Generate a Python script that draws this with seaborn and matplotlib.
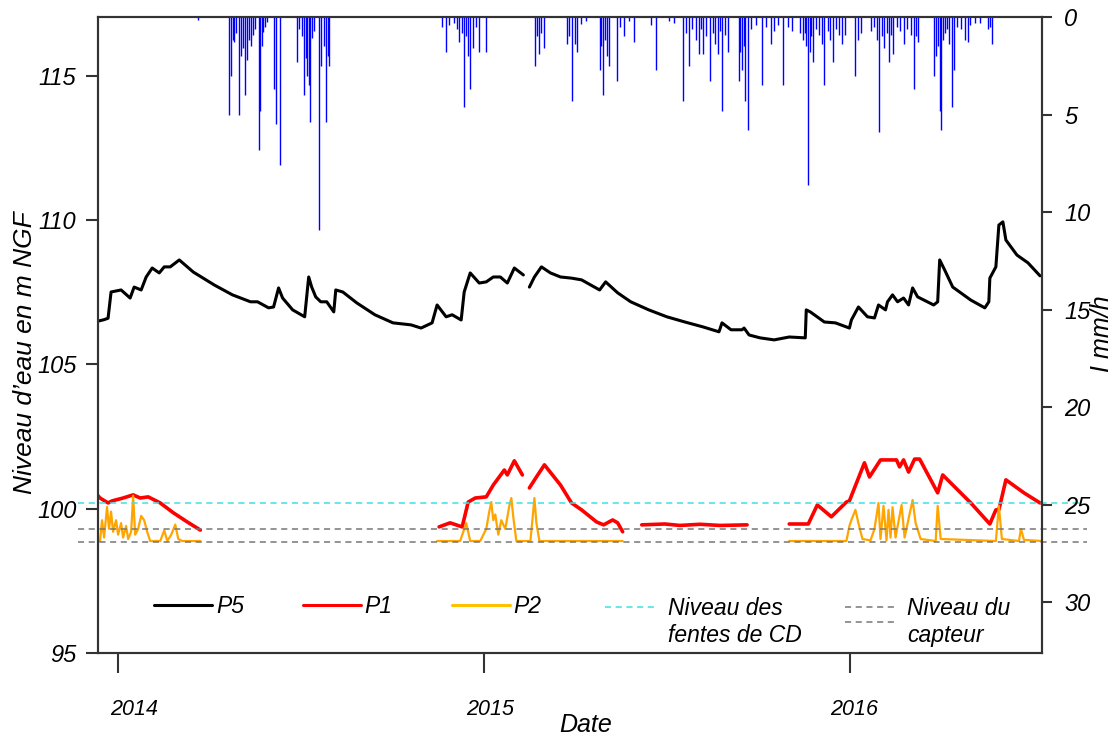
import numpy as np
import pandas as pd
import matplotlib
matplotlib.use("Agg")
import matplotlib.pyplot as plt
import seaborn as sns
from matplotlib.lines import Line2D
from matplotlib.legend_handler import HandlerBase
from matplotlib.transforms import ScaledTranslation

# jours depuis le 1er janvier 2014
origin = pd.Timestamp("2014-01-01")
nan = np.nan

p5_day = [-20, -14, -10, -7, 3, 12, 16, 23, 28, 34, 41, 46, 52, 61, 75, 96, 114, 132, 139, 150,
          155, 160, 164, 174, 186, 190, 193, 197, 202, 208, 215, 217, 224, 238, 256, 274, 292, 302,
          313, 318, 327, 333, 342, 345, 351, 360, 367, 374, 381, 388, 395, 404, nan,
          410, 415, 422, 431, 441, 452, 462, 480, 486, 498, 511, 529, 547, 565, 583, 599, 602, 611,
          622, 624, 629, 640, 654, 669, 685, 686, 690, 704, 715, 729, 731, 738, 747, 754, 758, 765,
          767, 772, 777, 783, 788, 792, 797, 813, 817, 819, 824, 832, 850, 864, 868, 869, 875, 878,
          882, 885, 896, 907, 919]
p5_level = [106.50, 106.55, 106.60, 107.51, 107.58, 107.30, 107.68, 107.58, 108.03, 108.34, 108.17,
            108.38, 108.38, 108.62, 108.20, 107.75, 107.41, 107.17, 107.17, 106.96, 106.99, 107.65,
            107.30, 106.89, 106.65, 108.03, 107.68, 107.34, 107.17, 107.17, 106.82, 107.58, 107.51,
            107.13, 106.72, 106.44, 106.37, 106.26, 106.44, 107.06, 106.65, 106.72, 106.54, 107.51,
            108.17, 107.82, 107.86, 108.03, 108.03, 107.82, 108.34, 108.10, nan,
            107.68, 108.03, 108.38, 108.17, 108.03, 107.99, 107.93, 107.58, 107.86, 107.48, 107.17,
            106.89, 106.65, 106.47, 106.30, 106.13, 106.44, 106.20, 106.20, 106.26, 106.02, 105.92,
            105.85, 105.95, 105.92, 106.89, 106.82, 106.47, 106.44, 106.26, 106.54, 106.99, 106.65,
            106.61, 107.06, 106.89, 107.17, 107.41, 107.17, 107.30, 107.06, 107.65, 107.34, 107.06,
            107.17, 108.62, 108.27, 107.68, 107.23, 106.96, 107.17, 107.99, 108.38, 109.83, 109.94,
            109.31, 108.79, 108.52, 108.07]

p1_day = [-20, -18, -10, -6, 5, 15, 22, 30, 42, 55, 69, 82, nan,
          320, 331, 343, 349, 356, 367, 374, 385, 388, 395, 403, nan,
          410, 417, 425, 441, 452, 462, 477, 484, 493, 498, 503, nan,
          522, 545, 560, 580, 600, 627, nan,
          669, 688, 697, 711, 726, 729, 744, 749, 760, 776, 779, 783, 788, 794, 799, 817, 822, 850,
          869, 875, 878, 885, 903, 919]
p1_level = [100.45, 100.37, 100.20, 100.27, 100.37, 100.48, 100.37, 100.41, 100.20, 99.86, 99.54, 99.26, nan,
            99.37, 99.51, 99.37, 100.23, 100.37, 100.41, 100.82, 101.34, 101.17, 101.66, 101.17, nan,
            100.72, 101.10, 101.52, 100.82, 100.20, 99.96, 99.54, 99.44, 99.61, 99.51, 99.20, nan,
            99.44, 99.47, 99.42, 99.46, 99.42, 99.44, nan,
            99.47, 99.47, 100.13, 99.72, 100.23, 100.27, 101.59, 101.10, 101.69, 101.69, 101.45,
            101.69, 101.27, 101.72, 101.72, 100.55, 101.17, 100.20, 99.47, 99.96, 99.96, 101.00,
            100.55, 100.20]

p2_day = [-20, -18, -16, -14, -11, -9, -7, -5, -2, 0, 3, 5, 8, 10, 13, 15, 17, 20, 23, 26, 29, 32,
          42, 46, 49, 53, 57, 60, 64, 82, nan,
          318, 341, 347, 351, 361, 367, 370, 372, 374, 376, 379, 382, 386, 388, 390, 392, 394, 397,
          411, 413, 415, 417, 420, 503, nan,
          669, 726, 729, 731, 735, 738, 742, 750, 754, 758, 760, 763, 766, 768, 770, 772, 775, 781,
          784, 792, 795, 800, 815, 817, 820, 875, 878, 881, 898, 900, 903, 921]
p2_level = [98.88, 98.88, 99.60, 99.00, 100.06, 99.30, 99.90, 99.20, 99.60, 99.10, 99.50, 99.00,
            99.40, 98.95, 99.20, 100.45, 99.10, 99.30, 99.75, 99.60, 99.20, 98.88, 98.88, 99.25,
            98.88, 99.10, 99.45, 98.95, 98.88, 98.88, nan,
            98.88, 98.88, 99.50, 98.88, 98.88, 99.30, 99.90, 100.23, 99.60, 99.80, 99.10, 99.60,
            99.30, 99.70, 100.10, 100.37, 99.70, 98.88, 98.88, 99.60, 100.37, 99.50, 98.88, 98.88, nan,
            98.88, 98.88, 99.40, 99.61, 99.96, 99.50, 98.95, 98.90, 99.30, 100.20, 98.95, 100.10,
            98.90, 99.96, 99.00, 100.05, 99.00, 100.13, 99.00, 100.30, 99.50, 98.95, 98.88, 100.10,
            98.95, 98.88, 100.10, 98.95, 98.88, 99.30, 98.92, 98.88]

rain_day = [80, 111, 113, 115, 116, 118, 121, 123, 125, 127, 129, 130, 132, 134, 136, 140, 141, 143,
            144, 146, 148, 155, 157, 161, 178, 180, 183, 185, 187, 188, 190, 191, 193, 195, 200, 202,
            205, 207, 209, 210,
            323, 327, 330, 335, 338, 340, 343, 345, 347, 349, 351, 354, 357, 360, 367,
            416, 418, 420, 422, 425, 447, 449, 452, 455, 457, 461, 466, 480, 481, 483, 485, 487, 489,
            497, 500, 504, 509, 514, 531, 536, 549, 554, 563, 566, 569, 572, 576, 579, 581, 583, 586,
            590, 593, 595, 598, 600, 602, 605, 608, 619, 620, 622, 624, 625, 628, 631, 636, 642, 646,
            651, 654, 658, 663, 668, 672, 680, 683, 685, 686, 688, 690, 691, 693, 696, 699, 702, 704,
            708, 710, 713, 716, 719, 722, 725, 735, 738, 741,
            751, 754, 757, 759, 761, 763, 766, 768, 770, 772, 776, 779, 783, 786, 790, 793, 795, 797,
            813, 815, 817, 819, 820, 822, 824, 826, 828, 831, 833, 836, 840, 844, 847, 849, 854, 859,
            867, 869, 871]
rain_mmh = [0.15, 5.0, 3.0, 1.2, 1.3, 0.8, 5.0, 2.0, 1.6, 4.0, 2.2, 1.2, 1.5, 0.9, 0.6, 6.8, 4.8, 1.5,
            0.75, 0.5, 0.25, 3.7, 5.5, 7.6, 2.3, 0.6, 1.0, 4.0, 2.1, 3.0, 3.5, 5.4, 1.1, 0.7, 10.9, 2.5,
            1.5, 5.4, 2.0, 2.5,
            0.5, 1.8, 0.4, 0.3, 0.6, 1.3, 0.8, 4.6, 1.0, 2.0, 3.7, 1.6, 0.5, 1.8, 1.8,
            2.5, 1.0, 1.9, 0.8, 1.6, 1.4, 1.0, 4.3, 1.4, 1.8, 0.35, 0.2, 2.7, 1.5, 4.0, 1.2, 2.0, 2.5,
            3.3, 0.5, 1.0, 0.2, 1.3, 0.4, 2.7, 0.2, 0.3, 4.3, 0.8, 2.5, 0.6, 1.2, 1.9, 0.6, 1.9, 1.0,
            3.3, 0.8, 1.4, 1.9, 0.7, 4.8, 0.9, 1.8, 3.3, 1.8, 2.7, 1.5, 4.3, 5.8, 0.6, 0.4, 3.5, 0.5,
            1.4, 0.7, 0.4, 3.5, 0.5, 0.7, 0.8, 1.2, 0.8, 1.5, 8.6, 1.8, 1.0, 2.3, 0.6, 0.9, 1.4, 3.5,
            0.7, 1.2, 2.3, 0.6, 0.9, 1.4, 0.9, 3.0, 1.2, 0.8,
            0.7, 0.5, 1.2, 5.9, 1.0, 1.6, 0.8, 2.3, 0.9, 1.9, 0.5, 0.7, 1.4, 0.6, 0.9, 3.7, 1.0, 1.3,
            3.0, 2.0, 1.5, 4.8, 5.8, 1.2, 0.8, 0.6, 1.4, 4.6, 2.7, 0.5, 0.6, 1.2, 1.3, 0.4, 0.3, 0.3,
            0.6, 0.5, 1.4]

niveau_fentes = 100.2
niveau_capteur = [99.3, 98.83]

year_ticks = ["2014-01-01", "2015-01-01", "2016-01-01"]
year_labels = ["2014", "2015", "2016"]


def to_frame(days, values):
    df = pd.DataFrame({"day": days, "niveau": values})
    df["seg"] = df["niveau"].isna().cumsum()
    df = df.dropna()
    df["date"] = origin + pd.to_timedelta(df["day"], unit="D")
    return df


class OffsetDash(HandlerBase):
    # ligne(s) de légende décalées vers la première ligne du texte
    def __init__(self, offsets):
        super().__init__()
        self.offsets = offsets

    def create_artists(self, legend, orig_handle, xdescent, ydescent, width, height, fontsize, trans):
        y0 = (height - ydescent) / 2
        arts = []
        for off in self.offsets:
            ln = Line2D([-xdescent, width - xdescent], [y0 + off, y0 + off])
            ln.update_from(orig_handle)
            ln.set_transform(trans)
            arts.append(ln)
        return arts


sns.set_style("ticks")
plt.rcParams["font.family"] = ["Liberation Sans", "DejaVu Sans"]
plt.rcParams["font.style"] = "italic"
plt.rcParams["axes.edgecolor"] = "#333333"
plt.rcParams["axes.linewidth"] = 1.5
plt.rcParams["text.color"] = "black"
plt.rcParams["axes.labelcolor"] = "black"
plt.rcParams["xtick.labelcolor"] = "black"
plt.rcParams["ytick.labelcolor"] = "black"

fig = plt.figure(figsize=(11.19, 7.38), dpi=100)
ax = fig.add_axes([0.0876, 0.1152, 0.8436, 0.8618])
ax2 = ax.twinx()

p5 = to_frame(p5_day, p5_level)
p1 = to_frame(p1_day, p1_level)
p2 = to_frame(p2_day, p2_level)
sns.lineplot(data=p5, x="date", y="niveau", units="seg", estimator=None, sort=False,
             color="black", lw=2.2, ax=ax, legend=False)
sns.lineplot(data=p1, x="date", y="niveau", units="seg", estimator=None, sort=False,
             color="#FF0000", lw=2.6, ax=ax, legend=False)
sns.lineplot(data=p2, x="date", y="niveau", units="seg", estimator=None, sort=False,
             color="#FFA500", lw=1.6, ax=ax, legend=False)

ax.axhline(niveau_fentes, xmin=-0.021, xmax=1.042, color="#40E0E0", lw=1.1,
           dashes=(4, 3), clip_on=False)
for lvl in niveau_capteur:
    ax.axhline(lvl, xmin=-0.021, xmax=1.048, color="#777777", lw=1.1,
               dashes=(4, 3), clip_on=False)

rain_dates = origin + pd.to_timedelta(rain_day, unit="D")
ax2.vlines(rain_dates, 0, rain_mmh, color="#0000FF", lw=1.0)

ax.set_xlim(origin - pd.Timedelta(days=20), origin + pd.Timedelta(days=921))
ax.set_ylim(95, 117.04)
ax2.set_ylim(32.6, 0)

ax.set_yticks([95, 100, 105, 110, 115])
ax.tick_params(axis="y", direction="out", length=8.6, width=1.5, pad=7, labelsize=17,
               color="#333333")
ax.set_xticks(pd.to_datetime(year_ticks))
ax.set_xticklabels(year_labels)
ax.tick_params(axis="x", direction="out", length=14.4, width=1.5, pad=19, labelsize=15.5,
               color="#333333")
for lab, dx in zip(ax.get_xticklabels(), [16, 6, 4]):
    lab.set_transform(lab.get_transform() + ScaledTranslation(dx / 100, 0, fig.dpi_scale_trans))

ax2.set_yticks(range(0, 31, 5))
ax2.tick_params(axis="y", direction="out", length=7, width=1.5, pad=9, labelsize=17,
                color="#333333")

ax.set_xlabel("Date", fontsize=18)
ax.xaxis.set_label_coords(0.516, -0.113)
ax.xaxis.label.set_va("center")
ax.set_ylabel("Niveau d\u2019eau en m NGF", fontsize=19)
ax.yaxis.set_label_coords(-0.0773, 0.472)
ax.yaxis.label.set_va("center")
ax2.set_ylabel("I mm/h", fontsize=18, rotation=90)
ax2.yaxis.set_label_coords(1.064, 0.502)
ax2.yaxis.label.set_va("center")

h_p = [Line2D([], [], color="black", lw=2.2),
       Line2D([], [], color="#FF0000", lw=2.2),
       Line2D([], [], color="#FFC000", lw=2.2)]
leg1 = ax2.legend(h_p, ["P5", "P1", "P2"], loc="center left", bbox_to_anchor=(0.0593, 0.0723),
                  ncol=3, frameon=False, fontsize=16.5, handlelength=2.53, handletextpad=0.17,
                  columnspacing=2.57, borderpad=0, borderaxespad=0)
ax2.add_artist(leg1)
h_n = [Line2D([], [], color="#40E0E0", lw=1.1, dashes=(4, 3)),
       Line2D([], [], color="#777777", lw=1.1, dashes=(4, 3))]
ax2.legend(h_n, ["Niveau des\nfentes de CD", "Niveau du\ncapteur"], loc="center left",
           bbox_to_anchor=(0.537, 0.0487), ncol=2, frameon=False, fontsize=16.5,
           handlelength=2.3, handletextpad=0.44, columnspacing=1.88, borderpad=0,
           borderaxespad=0,
           handler_map={h_n[0]: OffsetDash([11.5]), h_n[1]: OffsetDash([11.5, 0.8])})

fig.savefig("out.png", dpi=100)
